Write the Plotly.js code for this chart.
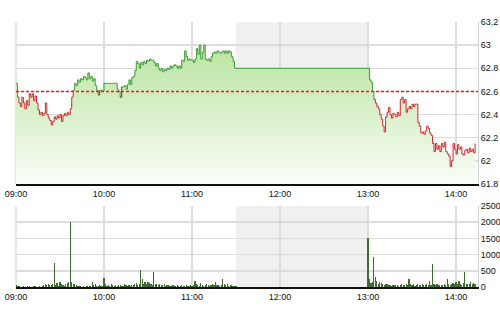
<!DOCTYPE html>
<html>
<head>
<meta charset="utf-8">
<script src="https://cdn.plot.ly/plotly-3.0.1.min.js"></script>
<style>html,body{margin:0;padding:0;background:#fff;}#chart{width:500px;height:312px;}</style>
</head>
<body>
<div id="chart"></div>
<script>
// ---- data ----
const tradeDate = "2024-01-02";
const refPrice = 62.6;
const amStart = "09:00";
const amPrices = [
62.67,62.55,62.50,62.47,62.55,62.50,62.45,62.52,62.48,62.58,
62.55,62.58,62.52,62.56,62.50,62.44,62.40,62.42,62.39,62.41,
62.50,62.40,62.37,62.35,62.31,62.34,62.38,62.36,62.39,62.37,
62.40,62.34,62.39,62.41,62.39,62.42,62.40,62.45,62.55,62.61,
62.67,62.65,62.70,62.68,62.71,62.70,62.73,62.72,62.70,62.76,
62.71,62.73,62.69,62.71,62.65,62.61,62.57,62.61,62.61,62.60,
62.67,62.67,62.67,62.67,62.67,62.67,62.67,62.67,62.67,62.62,
62.60,62.55,62.64,62.64,62.65,62.62,62.66,62.70,62.66,62.72,
62.73,62.78,62.86,62.84,62.80,62.85,62.83,62.86,62.84,62.87,
62.86,62.88,62.87,62.87,62.85,62.82,62.84,62.80,62.78,62.80,
62.77,62.79,62.78,62.80,62.79,62.82,62.80,62.82,62.83,62.82,
62.80,62.82,62.80,62.87,62.86,62.95,62.90,62.87,62.88,62.87,
62.87,62.85,62.88,62.97,62.92,63.00,62.88,62.94,63.00,62.88,
62.87,62.88,62.86,62.90,62.93,62.94,62.93,62.95,62.94,62.93,
62.94,62.95,62.93,62.95,62.93,62.95,62.94,62.90,62.86,62.80,
62.80];
const pmStart = "13:00";
const pmPrices = [
62.80,62.70,62.68,62.60,62.53,62.50,62.47,62.45,62.40,62.36,
62.30,62.25,62.38,62.42,62.46,62.40,62.37,62.41,62.40,62.38,
62.42,62.39,62.53,62.55,62.50,62.53,62.42,62.45,62.47,62.45,
62.49,62.47,62.49,62.49,62.33,62.30,62.24,62.25,62.23,62.26,
62.30,62.28,62.24,62.22,62.15,62.08,62.15,62.10,62.13,62.08,
62.15,62.12,62.16,62.08,62.06,62.04,61.95,62.00,62.15,62.10,
62.06,62.14,62.10,62.12,62.06,62.05,62.09,62.10,62.07,62.11,
62.08,62.10,62.07,62.15];
const amVolume = [
70,30,20,15,10,25,15,10,20,30,
15,10,20,25,10,15,20,10,30,60,
80,70,90,60,50,100,740,60,120,40,
150,90,60,30,80,120,140,2000,160,100,
90,60,40,30,20,10,20,15,25,30,
20,40,150,60,80,30,20,60,40,30,
280,90,40,60,30,80,50,40,70,30,
50,60,40,30,90,50,40,60,30,50,
60,80,120,60,90,520,250,100,140,80,
160,120,90,60,470,80,90,60,100,70,
60,80,40,60,50,30,40,60,30,40,
50,30,40,60,40,30,50,40,30,50,
40,60,200,80,60,40,120,70,40,60,
80,50,40,60,90,60,150,70,50,40,
60,250,80,60,90,40,60,50,40,30,
20];
const pmVolume = [
1500,250,120,150,930,300,200,100,160,120,
90,60,100,80,60,50,40,60,50,70,
60,40,60,90,60,50,80,60,250,90,
60,80,40,60,100,70,60,90,50,60,
80,60,200,60,720,90,60,80,60,50,
70,60,90,60,250,80,60,100,120,90,
150,80,200,90,60,120,460,100,80,90,
150,80,120,90];
const xTicks = ["09:00","10:00","11:00","12:00","13:00","14:00"];
const breakStart = "11:30", breakEnd = "13:00", xEnd = "14:15";
const priceTicks = [61.8,62,62.2,62.4,62.6,62.8,63,63.2];
const volTicks = [0,500,1000,1500,2000,2500];

// ---- build ----
function ts(hhmm, addMin){
  const [h,m] = hhmm.split(":").map(Number);
  const t = h*60+m+(addMin||0);
  const hh = String(Math.floor(t/60)).padStart(2,"0");
  const mm = String(t%60).padStart(2,"0");
  return tradeDate+" "+hh+":"+mm+":00";
}
const amX = amPrices.map((_,i)=>ts(amStart,i));
const pmX = pmPrices.map((_,i)=>ts(pmStart,i));
const px = amX.concat(pmX);
const py = amPrices.concat(pmPrices);
const greenY = py.map((v,i)=> (v>=refPrice || (i>0 && py[i-1]>=refPrice)) ? v : null);
const redY = py.map((v,i)=> (v<refPrice || (i>0 && py[i-1]<refPrice)) ? v : null);
const vx = amVolume.map((_,i)=>ts(amStart,i)).concat(pmVolume.map((_,i)=>ts(pmStart,i)));
const vy = amVolume.concat(pmVolume);

const fnt = {family:"Liberation Sans, Arial, sans-serif", size:9, color:"#111"};
const traces = [
  {x:px, y:py, type:"scatter", mode:"lines", line:{width:0, shape:"hv"}, fill:"tozeroy",
   fillgradient:{type:"vertical", start:61.8, stop:63.0,
     colorscale:[[0,"rgb(250,253,248)"],[1,"rgb(186,228,160)"]]},
   hoverinfo:"skip", xaxis:"x", yaxis:"y", showlegend:false},
  {x:px, y:greenY, type:"scatter", mode:"lines", line:{width:1, color:"#3d9a35", shape:"hv"},
   connectgaps:false, xaxis:"x", yaxis:"y", showlegend:false},
  {x:px, y:redY, type:"scatter", mode:"lines", line:{width:1, color:"#cc2a30", shape:"hv"},
   connectgaps:false, xaxis:"x", yaxis:"y", showlegend:false},
  {x:vx, y:vy, type:"bar", marker:{color:"#3f6a30", line:{width:0}}, width:50000,
   xaxis:"x2", yaxis:"y2", showlegend:false}
];
const xr = [ts("09:00"), ts(xEnd)];
const xcommon = {type:"date", range:xr, tickvals:xTicks.map(t=>ts(t)), ticktext:xTicks,
  showgrid:true, gridcolor:"#dcdcdc", gridwidth:1.5, showline:true, linecolor:"#111", linewidth:2,
  ticks:"", tickfont:fnt, zeroline:false, fixedrange:true};
const layout = {
  width:500, height:312, margin:{l:16, r:22, t:22, b:25},
  paper_bgcolor:"#fff", plot_bgcolor:"#fff", font:fnt, bargap:0,
  xaxis:Object.assign({}, xcommon, {anchor:"y", domain:[0,1]}),
  xaxis2:Object.assign({}, xcommon, {anchor:"y2", domain:[0,1]}),
  yaxis:{domain:[0.3887,1], range:[61.8,63.2], side:"right", tickvals:priceTicks,
    ticktext:priceTicks.map(String), showgrid:true, gridcolor:"#dcdcdc", gridwidth:1.5,
    showline:true, linecolor:"#cfcfcf", linewidth:1, ticks:"", tickfont:fnt, zeroline:false, anchor:"x"},
  yaxis2:{domain:[0,0.3057], range:[0,2500], side:"right", tickvals:volTicks,
    showgrid:true, gridcolor:"#dcdcdc", gridwidth:1.5,
    showline:true, linecolor:"#cfcfcf", linewidth:1, ticks:"", tickfont:fnt, zeroline:false, anchor:"x2"},
  shapes:[
    {type:"rect", xref:"x", yref:"y domain", x0:ts(breakStart), x1:ts(breakEnd), y0:0, y1:1,
     fillcolor:"#f0f0f0", line:{width:0}, layer:"below"},
    {type:"rect", xref:"x2", yref:"y2 domain", x0:ts(breakStart), x1:ts(breakEnd), y0:0, y1:1,
     fillcolor:"#f0f0f0", line:{width:0}, layer:"below"},
    {type:"line", xref:"x domain", yref:"y", x0:0, x1:1, y0:refPrice, y1:refPrice,
     line:{color:"#ee1c1c", width:1.5, dash:"3px,2px"}, layer:"above"},
    {type:"line", xref:"x domain", yref:"y domain", x0:0, x1:0, y0:0, y1:1,
     line:{color:"#cfcfcf", width:1}, layer:"below"},
    {type:"line", xref:"x2 domain", yref:"y2 domain", x0:0, x1:0, y0:0, y1:1,
     line:{color:"#cfcfcf", width:1}, layer:"below"}
  ]
};
Plotly.newPlot("chart", traces, layout, {staticPlot:true, displayModeBar:false});
</script>
</body>
</html>
